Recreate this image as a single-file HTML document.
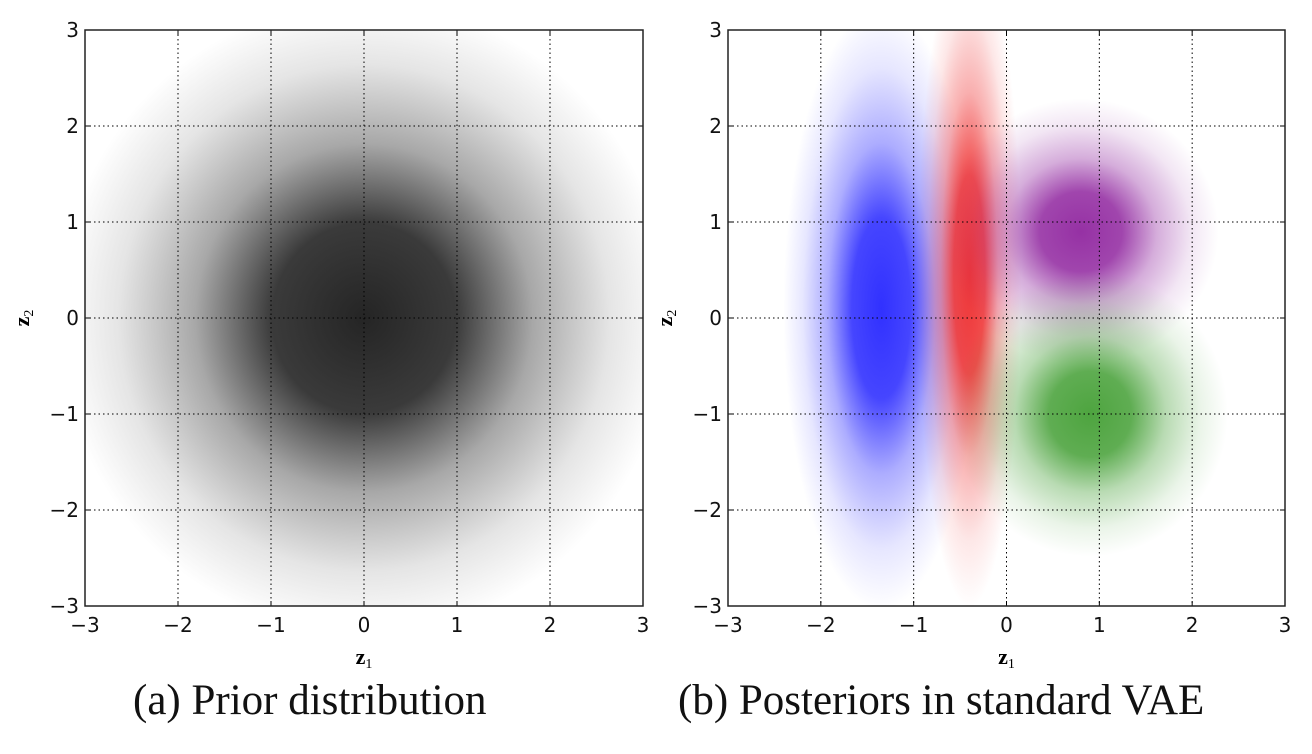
<!DOCTYPE html>
<html><head><meta charset="utf-8"><style>
body{margin:0;background:#fff;width:1312px;height:754px;overflow:hidden;font-family:"DejaVu Sans","Liberation Sans",sans-serif}
.cap{position:absolute;font-family:"Liberation Serif",serif;font-size:43px;color:#111;white-space:nowrap}
</style></head><body>
<svg id="chart" width="1312" height="754" style="position:absolute;left:0;top:0"></svg>
<div class="cap" style="left:133px;top:676px">(a) Prior distribution</div>
<div class="cap" style="left:678px;top:676px">(b) Posteriors in standard VAE</div>
<script>
const ticks=[-3,-2,-1,0,1,2,3];
const tickLabels=["\u22123","\u22122","\u22121","0","1","2","3"];
// prior cluster (panel a)
const priorX=[0],priorY=[0],priorSX=[1.0],priorSY=[1.0],priorColor=["#1e1e1e"],priorAlpha=[0.97];
// posterior clusters (panel b)
const postX=[-1.35,-0.4,0.8,0.9];
const postY=[0.1,0.45,0.9,-1.0];
const postSX=[0.32,0.17,0.45,0.45];
const postSY=[0.95,1.05,0.42,0.45];
const postColor=["#1a1aff","#ee2222","#8a1a9a","#3a9a2a"];
const postAlpha=[0.9,0.9,0.9,0.9];
const NS="http://www.w3.org/2000/svg";
const svg=document.getElementById('chart');
const defs=document.createElementNS(NS,'defs');svg.appendChild(defs);
function mk(t,a,p){const e=document.createElementNS(NS,t);for(const k in a)e.setAttribute(k,a[k]);(p||svg).appendChild(e);return e;}
let gid=0;
function panel(x0,x1,y0,y1,name,cx,cy,sx,sy,col,al){
  const X=v=>x0+(v+3)/6*(x1-x0), Y=v=>y1-(v+3)/6*(y1-y0);
  const g=mk('g',{});
  const clip=mk('clipPath',{id:'c'+name},defs);mk('rect',{x:x0,y:y0,width:x1-x0,height:y1-y0},clip);
  const cg=mk('g',{'clip-path':'url(#c'+name+')'},g);
  for(let i=0;i<cx.length;i++){
    const id='gr'+(gid++);
    const rg=mk('radialGradient',{id:id},defs);
    mk('stop',{offset:'0', 'stop-color':col[i],'stop-opacity':al[i]},rg);
    mk('stop',{offset:'0.3','stop-color':col[i],'stop-opacity':al[i]*0.9},rg);
    mk('stop',{offset:'0.55','stop-color':col[i],'stop-opacity':al[i]*0.4},rg);
    mk('stop',{offset:'0.8','stop-color':col[i],'stop-opacity':al[i]*0.12},rg);
    mk('stop',{offset:'1','stop-color':col[i],'stop-opacity':0},rg);
    const e=mk('ellipse',{cx:X(cx[i]),cy:Y(cy[i]),rx:(X(3.3*sx[i])-X(0)),ry:(Y(0)-Y(3.3*sy[i])),fill:'url(#'+id+')'},cg);
    
    
  }
  ticks.forEach((t,i)=>{
    if(i>0&&i<ticks.length-1){
      mk('line',{x1:X(t),x2:X(t),y1:y0,y2:y1,stroke:'#000','stroke-width':1,'stroke-dasharray':'1.5,3'},g);
      mk('line',{x1:x0,x2:x1,y1:Y(t),y2:Y(t),stroke:'#000','stroke-width':1,'stroke-dasharray':'1.5,3'},g);
    }
    mk('line',{x1:X(t),x2:X(t),y1:y1,y2:y1-5,stroke:'#000'},g);
    mk('line',{x1:X(t),x2:X(t),y1:y0,y2:y0+5,stroke:'#000'},g);
    mk('line',{x1:x0,x2:x0+5,y1:Y(t),y2:Y(t),stroke:'#000'},g);
    mk('line',{x1:x1,x2:x1-5,y1:Y(t),y2:Y(t),stroke:'#000'},g);
    const tx=mk('text',{x:X(t),y:y1+26,'font-size':20,'text-anchor':'middle',fill:'#111'},g);tx.textContent=tickLabels[i];
    
    const ty=mk('text',{x:x0-6,y:Y(t)+7,'font-size':20,'text-anchor':'end',fill:'#111'},g);ty.textContent=tickLabels[i];
    
  });
  mk('rect',{x:x0,y:y0,width:x1-x0,height:y1-y0,fill:'none',stroke:'#222','stroke-width':1.5},g);
  const xl=mk('text',{x:(x0+x1)/2,y:y1+58,'font-size':22,'font-weight':'bold','font-family':'Liberation Serif,serif','text-anchor':'middle'},g);
  xl.innerHTML='z<tspan font-size="14" font-weight="normal" dy="4">1</tspan>';
  
  const yl=mk('text',{transform:'translate('+(x0-56)+','+((y0+y1)/2)+') rotate(-90)','font-size':22,'font-weight':'bold','font-family':'Liberation Serif,serif','text-anchor':'middle'},g);
  yl.innerHTML='z<tspan font-size="14" font-weight="normal" dy="4">2</tspan>';
  
}
panel(85,643,30,606,'prior-plot',priorX,priorY,priorSX,priorSY,priorColor,priorAlpha);
panel(728,1285,30,606,'posterior-plot',postX,postY,postSX,postSY,postColor,postAlpha);
</script>
</body></html>
